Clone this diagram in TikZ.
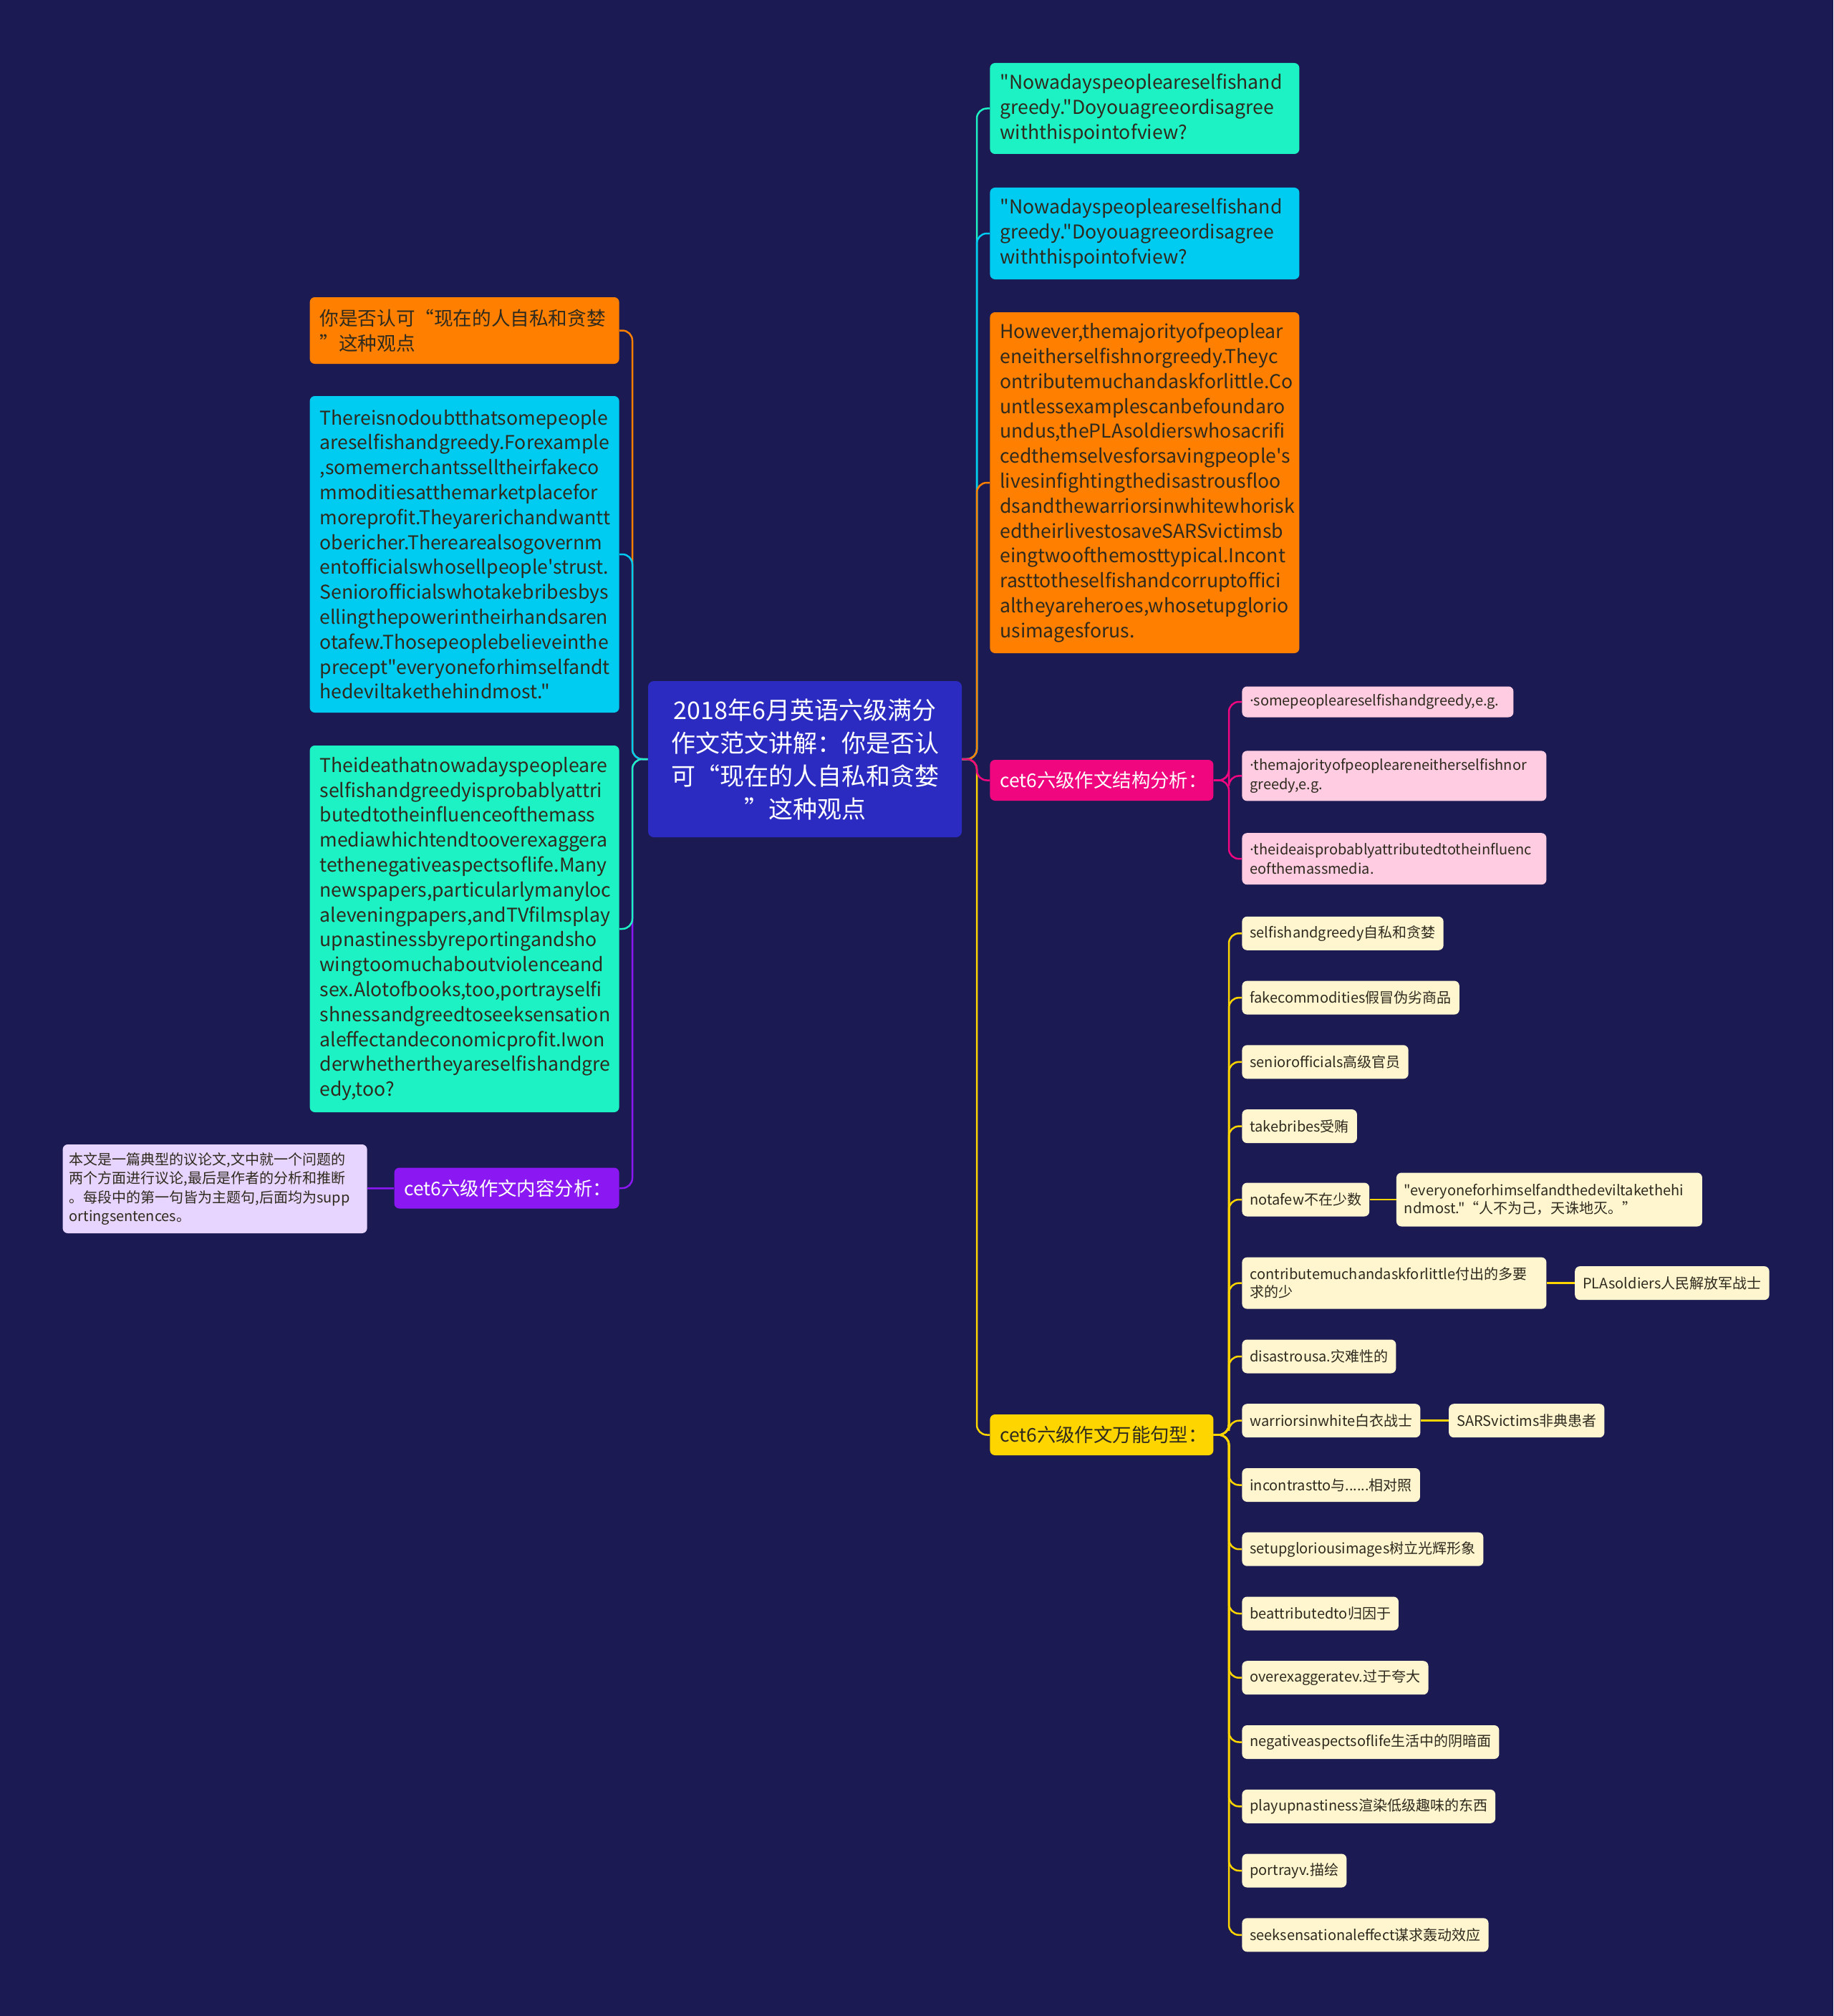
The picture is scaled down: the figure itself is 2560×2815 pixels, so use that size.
\documentclass[tikz,border=0pt]{standalone}
\usepackage{fontspec}
\setmainfont{Noto Sans CJK SC}[Ligatures=TeXOff]
\newfontfamily\dotfont{Noto Sans}
\usetikzlibrary{positioning}

\definecolor{bgnavy}{HTML}{1B1A52}
\definecolor{rootblue}{HTML}{2B2BC2}
\definecolor{mint}{HTML}{1DF2C4}
\definecolor{skyc}{HTML}{00CCF2}
\definecolor{orng}{HTML}{FF7F00}
\definecolor{rose}{HTML}{F0077F}
\definecolor{gold}{HTML}{FFD500}
\definecolor{vio}{HTML}{8B17F2}
\definecolor{pinklt}{HTML}{FFCCE2}
\definecolor{cream}{HTML}{FFF6CF}
\definecolor{lavend}{HTML}{E8D5FF}
\definecolor{inkdark}{HTML}{2E2A1E}

\begin{document}
\begin{tikzpicture}[
  x=0.5pt, y=-0.5pt,
  root/.style={fill=rootblue, rounded corners=4pt, text=white, align=center, minimum width=219pt, minimum height=109pt, font=\fontsize{17}{23}\selectfont},
  bigbox/.style={rounded corners=3.5pt, align=left, text width=202pt, inner xsep=7pt, font=\fontsize{13.3}{17.4}\selectfont},
  lab/.style={rounded corners=3.5pt, text width=142pt, align=left, minimum height=28.5pt, inner xsep=7pt, font=\fontsize{13.2}{17}\selectfont},
  leaf/.style={fill=cream, text=inkdark, rounded corners=3.5pt, align=left, inner xsep=5.5pt, minimum height=23.5pt, font=\fontsize{10}{12.5}\selectfont},
  pleaf/.style={fill=pinklt, text=inkdark, rounded corners=3.5pt, align=left, inner xsep=5.5pt, font=\fontsize{10}{13.5}\selectfont},
  conn/.style={line width=1.25pt, rounded corners=7pt},
]
  % background
  \fill[bgnavy] (0,0) rectangle (2560,2815);

  % centre
  \node[root] (root) at (1124,1060) {2018年6月英语六级满分\\作文范文讲解：你是否认\\可“现在的人自私和贪婪\\”这种观点};
  \coordinate (rsp) at (1364,1060);
  \coordinate (lsp) at (883,1060);

  % right branches
  \node[bigbox, fill=mint, text=inkdark, anchor=west, minimum height=63.5pt] (q1) at (1382,151.5) {"Nowadayspeopleareselfishand\\greedy."Doyouagreeordisagree\\withthispointofview?};
  \node[bigbox, fill=skyc, text=inkdark, anchor=west, minimum height=64pt] (q2) at (1382,326) {"Nowadayspeopleareselfishand\\greedy."Doyouagreeordisagree\\withthispointofview?};
  \node[bigbox, fill=orng, text=inkdark, anchor=west, minimum height=238pt] (q3) at (1382,674) {However,themajorityofpeoplear\\eneitherselfishnorgreedy.Theyc\\ontributemuchandaskforlittle.Co\\untlessexamplescanbefoundaro\\undus,thePLAsoldierswhosacrifi\\cedthemselvesforsavingpeople's\\livesinfightingthedisastrousfloo\\dsandthewarriorsinwhitewhorisk\\edtheirlivestosaveSARSvictimsb\\eingtwoofthemosttypical.Incont\\rasttotheselfishandcorruptoffici\\altheyareheroes,whosetupglorio\\usimagesforus.};
  \node[lab, fill=rose, text=white, anchor=west] (plab) at (1382,1089.5) {cet6六级作文结构分析：};
  \node[lab, fill=gold, text=inkdark, anchor=west] (ylab) at (1382,2003.5) {cet6六级作文万能句型：};

  \draw[conn, gold] (root.east) -- (rsp) |- (ylab.west);
  \draw[conn, mint] (root.east) -- (rsp) |- (q1.west);
  \draw[conn, skyc] (root.east) -- (rsp) |- (q2.west);
  \draw[conn, orng] (root.east) -- (rsp) |- (q3.west);
  \draw[conn, rose] (root.east) -- (rsp) |- (plab.west);

  % structure analysis
  \coordinate (psp) at (1716,1089.5);
  \node[pleaf, anchor=west, text width=178.5pt, minimum height=21.5pt] (p1) at (1734,980) {{\dotfont·}somepeopleareselfishandgreedy,e.g.};
  \node[pleaf, anchor=west, text width=201.5pt, minimum height=35pt] (p2) at (1734,1083.4) {{\dotfont·}themajorityofpeopleareneitherselfishnor\\greedy,e.g.};
  \node[pleaf, anchor=west, text width=201.5pt, minimum height=36pt] (p3) at (1734,1199.2) {{\dotfont·}theideaisprobablyattributedtotheinfluenc\\eofthemassmedia.};
  \draw[conn, rose] (plab.east) -- (psp) |- (p1.west);
  \draw[conn, rose] (plab.east) -- (psp) |- (p2.west);
  \draw[conn, rose] (plab.east) -- (psp) |- (p3.west);

  % useful phrases
  \coordinate (ysp) at (1716,2003.5);
  \node[leaf, anchor=west] (w1) at (1734,1303.3) {selfishandgreedy自私和贪婪};
  \node[leaf, anchor=west] (w2) at (1734,1393.1) {fakecommodities假冒伪劣商品};
  \node[leaf, anchor=west] (w3) at (1734,1482.8) {seniorofficials高级官员};
  \node[leaf, anchor=west] (w4) at (1734,1572.6) {takebribes受贿};
  \node[leaf, anchor=west] (w5) at (1734,1675) {notafew不在少数};
  \node[leaf, anchor=west, text width=201.5pt, minimum height=36pt] (w6) at (1734,1791.6) {contributemuchandaskforlittle付出的多要\\求的少};
  \node[leaf, anchor=west] (w7) at (1734,1894) {disastrousa.灾难性的};
  \node[leaf, anchor=west] (w8) at (1734,1983.7) {warriorsinwhite白衣战士};
  \node[leaf, anchor=west] (w9) at (1734,2073.5) {incontrastto与......相对照};
  \node[leaf, anchor=west] (w10) at (1734,2163.2) {setupgloriousimages树立光辉形象};
  \node[leaf, anchor=west] (w11) at (1734,2253) {beattributedto归因于};
  \node[leaf, anchor=west] (w12) at (1734,2342.7) {overexaggeratev.过于夸大};
  \node[leaf, anchor=west] (w13) at (1734,2432.5) {negativeaspectsoflife生活中的阴暗面};
  \node[leaf, anchor=west] (w14) at (1734,2522.3) {playupnastiness渲染低级趣味的东西};
  \node[leaf, anchor=west] (w15) at (1734,2612) {portrayv.描绘};
  \node[leaf, anchor=west] (w16) at (1734,2701.8) {seeksensationaleffect谋求轰动效应};

  \node[leaf, right=18.5pt of w5, text width=202.5pt, minimum height=37.5pt] (w5a) {"everyoneforhimselfandthedeviltakethehi\\ndmost."“人不为己，天诛地灭。”};
  \node[leaf, right=19.5pt of w6] (w6a) {PLAsoldiers人民解放军战士};
  \node[leaf, right=19.5pt of w8] (w8a) {SARSvictims非典患者};

  \draw[conn, gold] (ylab.east) -- (ysp) |- (w1.west);
  \draw[conn, gold] (ylab.east) -- (ysp) |- (w2.west);
  \draw[conn, gold] (ylab.east) -- (ysp) |- (w3.west);
  \draw[conn, gold] (ylab.east) -- (ysp) |- (w4.west);
  \draw[conn, gold] (ylab.east) -- (ysp) |- (w5.west);
  \draw[conn, gold] (ylab.east) -- (ysp) |- (w6.west);
  \draw[conn, gold] (ylab.east) -- (ysp) |- (w7.west);
  \draw[conn, gold] (ylab.east) -- (ysp) |- (w8.west);
  \draw[conn, gold] (ylab.east) -- (ysp) |- (w9.west);
  \draw[conn, gold] (ylab.east) -- (ysp) |- (w10.west);
  \draw[conn, gold] (ylab.east) -- (ysp) |- (w11.west);
  \draw[conn, gold] (ylab.east) -- (ysp) |- (w12.west);
  \draw[conn, gold] (ylab.east) -- (ysp) |- (w13.west);
  \draw[conn, gold] (ylab.east) -- (ysp) |- (w14.west);
  \draw[conn, gold] (ylab.east) -- (ysp) |- (w15.west);
  \draw[conn, gold] (ylab.east) -- (ysp) |- (w16.west);
  \draw[conn, gold] (w5) -- (w5a);
  \draw[conn, gold] (w6) -- (w6a);
  \draw[conn, gold] (w8) -- (w8a);

  % left branches
  \node[bigbox, fill=orng, text=inkdark, anchor=east, minimum height=46.5pt] (o2) at (865,461.5) {你是否认可“现在的人自私和贪婪\\”这种观点};
  \node[bigbox, fill=skyc, text=inkdark, anchor=east, minimum height=221pt] (s2) at (865,774) {Thereisnodoubtthatsomepeople\\areselfishandgreedy.Forexample\\,somemerchantsselltheirfakeco\\mmoditiesatthemarketplacefor\\moreprofit.Theyarerichandwantt\\obericher.Therearealsogovernm\\entofficialswhosellpeople'strust.\\Seniorofficialswhotakebribesbys\\ellingthepowerintheirhandsaren\\otafew.Thosepeoplebelieveinthe\\precept"everyoneforhimselfandt\\hedeviltakethehindmost."};
  \node[bigbox, fill=mint, text=inkdark, anchor=east, minimum height=256pt] (g2) at (865,1297) {Theideathatnowadayspeopleare\\selfishandgreedyisprobablyattri\\butedtotheinfluenceofthemass\\mediawhichtendtooverexaggera\\tethenegativeaspectsoflife.Many\\newspapers,particularlymanyloc\\aleveningpapers,andTVfilmsplay\\upnastinessbyreportingandsho\\wingtoomuchaboutviolenceand\\sex.Alotofbooks,too,portrayselfi\\shnessandgreedtoseeksensation\\aleffectandeconomicprofit.Iwon\\derwhethertheyareselfishandgre\\edy,too?};
  \node[lab, fill=vio, text=white, anchor=east, text width=143pt] (vlab) at (865,1659) {cet6六级作文内容分析：};
  \node[fill=lavend, text=inkdark, rounded corners=3.5pt, align=left, text width=203.5pt, inner xsep=4.5pt, minimum height=62pt, font=\fontsize{10}{13.2}\selectfont, anchor=east] (note) at (513,1660) {本文是一篇典型的议论文,文中就一个问题的\\两个方面进行议论,最后是作者的分析和推断\\。每段中的第一句皆为主题句,后面均为supp\\ortingsentences。};

  \draw[conn, orng] (root.west) -- (lsp) |- (o2.east);
  \draw[conn, skyc] (root.west) -- (lsp) |- (s2.east);
  \draw[conn, vio] (root.west) -- (lsp) |- (vlab.east);
  \draw[conn, mint] (root.west) -- (lsp) |- (g2.east);
  \draw[conn, vio] (vlab) -- (note);
\end{tikzpicture}
\end{document}
